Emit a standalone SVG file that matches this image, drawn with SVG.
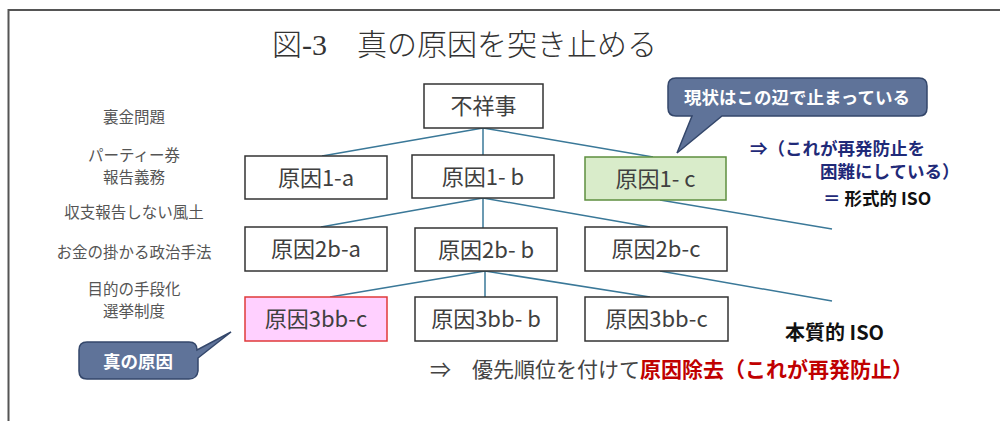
<svg xmlns="http://www.w3.org/2000/svg" width="1000" height="421" viewBox="0 0 1000 421">
<style>
.box{fill:#fff;stroke:#333;stroke-width:1.5}
.nt{font-family:"Noto Sans CJK JP","Noto Sans",sans-serif;font-size:22px;fill:#404040;text-anchor:middle}
.lbl{font-family:"Noto Sans CJK JP",sans-serif;font-size:15.5px;fill:#555;text-anchor:middle}
.con{stroke:#3a7898;stroke-width:1.5;fill:none}
.call{fill:#5f7399;stroke:#34476b;stroke-width:1.5}
.ct{font-family:"Noto Sans CJK JP",sans-serif;font-size:17.5px;font-weight:bold;fill:#fff;text-anchor:middle}
.b{font-family:"Noto Sans CJK JP","Liberation Sans",sans-serif;font-weight:bold}
</style>
<rect x="8.5" y="10" width="1000" height="430" fill="#fff" stroke="#555" stroke-width="2"/>
<text x="272" y="55" font-family="'Liberation Serif','Noto Sans CJK JP',serif" font-size="30" font-weight="300" fill="#333">図-3　真の原因を突き止める</text>
<g id="labels">
<text class="lbl" x="134" y="123">裏金問題</text>
<text class="lbl" x="134" y="161">パーティー券</text>
<text class="lbl" x="134" y="183">報告義務</text>
<text class="lbl" x="134" y="218">収支報告しない風土</text>
<text class="lbl" x="134" y="258">お金の掛かる政治手法</text>
<text class="lbl" x="134" y="295">目的の手段化</text>
<text class="lbl" x="134" y="317">選挙制度</text>
</g>
<g id="connectors">
<line class="con" x1="483" y1="128" x2="322" y2="156"/>
<line class="con" x1="483" y1="128" x2="483" y2="155"/>
<line class="con" x1="483" y1="128" x2="653" y2="157"/>
<line class="con" x1="483" y1="198" x2="321" y2="227"/>
<line class="con" x1="483" y1="198" x2="483" y2="228"/>
<line class="con" x1="483" y1="198" x2="650" y2="227"/>
<line class="con" x1="485" y1="271" x2="330" y2="297"/>
<line class="con" x1="485" y1="271" x2="485" y2="297"/>
<line class="con" x1="485" y1="271" x2="650" y2="297"/>
<line class="con" x1="660" y1="200" x2="832" y2="229"/>
<line class="con" x1="660" y1="271" x2="832" y2="301"/>
</g>
<g id="n0"><rect class="box" x="424" y="84" width="119" height="44"/><text class="nt" x="483.5" y="114" font-size="23">不祥事</text></g>
<g id="n1a"><rect class="box" x="245" y="156" width="142" height="43"/><text class="nt" x="316" y="185.5">原因1-a</text></g>
<g id="n1b"><rect class="box" x="412" y="155" width="142" height="43"/><text class="nt" x="483" y="184.5">原因1- b</text></g>
<g id="n1c"><rect x="585" y="157" width="141" height="43" fill="#d9ecca" stroke="#5e8f3f" stroke-width="1.5"/><text class="nt" x="655.5" y="186.5">原因1- c</text></g>
<g id="n2a"><rect class="box" x="245" y="227" width="142" height="44"/><text class="nt" x="316" y="257">原因2b-a</text></g>
<g id="n2b"><rect class="box" x="415" y="228" width="142" height="43"/><text class="nt" x="486" y="257.5">原因2b- b</text></g>
<g id="n2c"><rect class="box" x="585" y="227" width="142" height="44"/><text class="nt" x="656" y="257">原因2b-c</text></g>
<g id="n3a"><rect x="245" y="297" width="142" height="44" fill="#ffd0ff" stroke="#e03a3a" stroke-width="1.5"/><text class="nt" x="316" y="327">原因3bb-c</text></g>
<g id="n3b"><rect class="box" x="415" y="297" width="142" height="44"/><text class="nt" x="486" y="327">原因3bb- b</text></g>
<g id="n3c"><rect class="box" x="585" y="297" width="143" height="44"/><text class="nt" x="656.5" y="327">原因3bb-c</text></g>
<g id="callout1"><path class="call" d="M676,78 H919 Q927,78 927,86 V108 Q927,116 919,116 H722 L677,153 L692,116 H676 Q668,116 668,108 V86 Q668,78 676,78 Z"/><text class="ct" x="797" y="104">現状はこの辺で止まっている</text></g>
<g id="callout2"><path class="call" d="M87,342 H189 Q197,342 197,350 L231,332 L198,358 V371 Q197,379 189,379 H87 Q79,379 79,371 V350 Q79,342 87,342 Z"/><text class="ct" x="138" y="368">真の原因</text></g>
<g id="notes">
<text class="b" x="750" y="155" font-size="17.5" fill="#1f2a78">⇒（これが再発防止を</text>
<text class="b" x="820" y="178" font-size="17.5" fill="#1f2a78">困難にしている）</text>
<text class="b" x="823" y="205" font-size="17.5" fill="#1f2a78">＝ <tspan fill="#111">形式的 ISO</tspan></text>
<text class="b" x="785" y="340" font-size="20" fill="#111">本質的 ISO</text>
<text x="430" y="377" font-family="'Noto Sans CJK JP',sans-serif" font-size="21" fill="#444">⇒　優先順位を付けて<tspan font-weight="bold" fill="#c00000">原因除去（これが再発防止）</tspan></text>
</g>
</svg>
